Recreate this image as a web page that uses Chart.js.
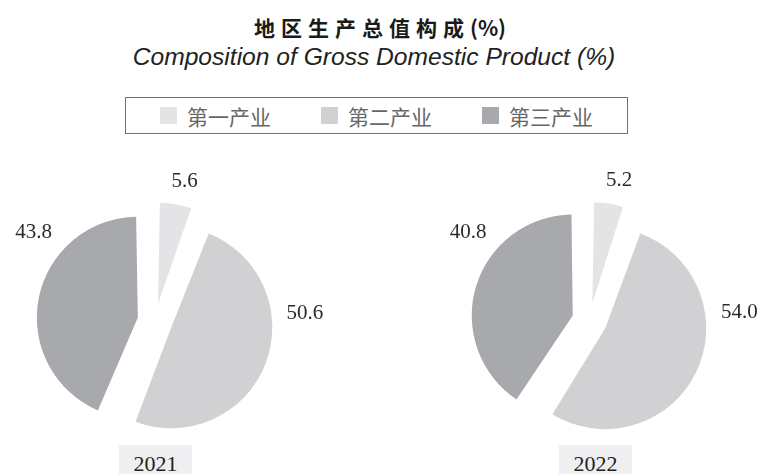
<!DOCTYPE html>
<html>
<head>
<meta charset="utf-8">
<script src="https://cdn.jsdelivr.net/npm/chart.js@4.4.0/dist/chart.umd.min.js"></script>
<style>
  body { margin: 0; background: #fff; }
  #page { position: relative; width: 760px; height: 474px; overflow: hidden; background: #fff; }
  .title-cn { position: absolute; left: 0; top: 12px; width: 760px; text-align: center;
    font: bold 21px "Noto Sans CJK SC"; color: #1a1a1a; }
  .title-cn span { letter-spacing: 6px; }
  .title-en { position: absolute; left: -6px; top: 43px; width: 760px; text-align: center;
    font: italic 24.6px "Liberation Sans"; color: #222; }
  #legend { position: absolute; left: 125px; top: 97px; width: 501px; height: 35px;
    border: 1.5px solid #707070; display: flex; justify-content: center; align-items: center; gap: 50px; }
  .item { display: flex; align-items: center; font: 21px "Noto Sans CJK SC"; color: #666; }
  .swatch { width: 17px; height: 17px; margin-right: 10px; }
  canvas { position: absolute; top: 150px; }
  .year { position: absolute; top: 445px; width: 73px; height: 36px; background: #efeff1;
    text-align: center; font: 22px "Liberation Serif"; color: #222; line-height: 38px; }
</style>
</head>
<body>
<div id="page">
  <div class="title-cn"><span>地区生产总值构成</span>(%)</div>
  <div class="title-en">Composition of Gross Domestic Product (%)</div>
  <div id="legend"></div>
  <canvas id="pie2021" width="380" height="324" style="left:0"></canvas>
  <canvas id="pie2022" width="380" height="324" style="left:380px"></canvas>
  <div class="year" id="year2021" style="left:119px"></div>
  <div class="year" id="year2022" style="left:559px"></div>
</div>
<script>
const categories = ['第一产业', '第二产业', '第三产业'];
const years = ['2021', '2022'];
const share2021 = [5.6, 50.6, 43.8];
const share2022 = [5.2, 54.0, 40.8];

const sliceColors = ['#e4e4e6', '#d1d1d3', '#a8a9ac'];
const explodeShift = 17.5; // px every slice is pushed out from the centre

// legend strip above both pies
document.getElementById('legend').innerHTML = categories.map((name, i) => `
  <div class="item"><span class="swatch" style="background:${sliceColors[i]}"></span>${name}</div>
`).join('');
document.getElementById('year2021').innerText = years[0];
document.getElementById('year2022').innerText = years[1];

// Chart.js moves an arc by offset/4 but also grows its radius by
// offset/4 * (1 - sin(sweep)); take that growth back so all slices stay the same size
const keepRadius = {
  id: 'keepRadius',
  afterDatasetUpdate(chart, args) {
    args.meta.data.forEach(arc => {
      const fix = 1 - Math.sin(Math.min(Math.PI, arc.circumference));
      arc.outerRadius -= arc.options.offset / 4 * fix;
    });
  }
};

// value labels placed around each pie at a fixed angle per slice
const valueLabels = {
  id: 'valueLabels',
  afterDatasetsDraw(chart, args, opts) {
    const ctx = chart.ctx;
    const meta = chart.getDatasetMeta(0);
    const radius = meta.controller.outerRadius;
    const values = chart.data.datasets[0].data;
    ctx.save();
    ctx.font = '21px "Liberation Serif"';
    ctx.fillStyle = '#2b2b2b';
    ctx.textAlign = 'center';
    ctx.textBaseline = 'middle';
    meta.data.forEach((arc, i) => {
      const a = (opts.angles[i] - 90) * Math.PI / 180;
      const d = radius + opts.gaps[i];
      ctx.fillText(values[i].toFixed(1), arc.x + Math.cos(a) * d, arc.y + Math.sin(a) * d);
    });
    ctx.restore();
  }
};

function makePie(id, values, padding) {
  new Chart(document.getElementById(id), {
    type: 'pie',
    data: {
      labels: categories,
      datasets: [{
        data: values,
        backgroundColor: sliceColors,
        borderWidth: 0,
        offset: explodeShift * 4,
        hoverOffset: 0
      }]
    },
    options: {
      responsive: false,
      animation: false,
      radius: 101,
      layout: { padding },
      plugins: {
        legend: { display: false },
        tooltip: { enabled: false },
        valueLabels: { angles: [12, 87, 306], gaps: [42, 49, 49] }
      }
    },
    plugins: [keepRadius, valueLabels]
  });
}

makePie('pie2021', share2021, { left: 0, right: 70, top: 18, bottom: 0 });
makePie('pie2022', share2022, { left: 39, right: 0, top: 17, bottom: 0 });
</script>
</body>
</html>
